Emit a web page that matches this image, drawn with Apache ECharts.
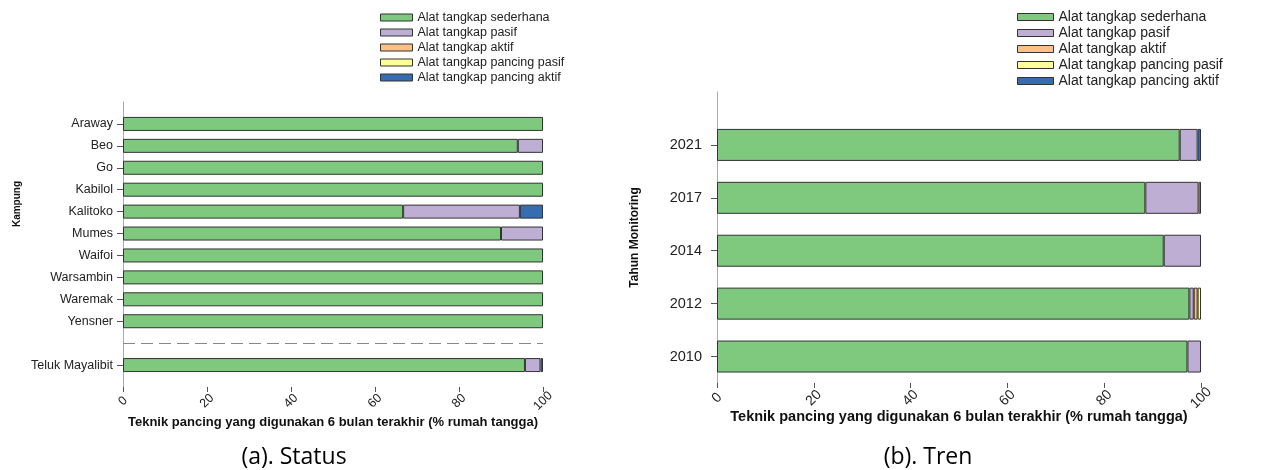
<!DOCTYPE html>
<html>
<head>
<meta charset="utf-8">
<script src="https://cdn.jsdelivr.net/npm/echarts@6/dist/echarts.min.js"></script>
<style>
html, body { margin: 0; padding: 0; background: #fff; }
#main { width: 1263px; height: 470px; }
</style>
</head>
<body>
<div id="main"></div>
<script>
var seriesNames = ['Alat tangkap sederhana', 'Alat tangkap pasif', 'Alat tangkap aktif', 'Alat tangkap pancing pasif', 'Alat tangkap pancing aktif'];
var colors = ['#7FC97F', '#BEAED4', '#FDC086', '#FFFF99', '#386CB0'];
var xTicks = [0, 20, 40, 60, 80, 100];

//(a) status per kampung
var kampung = ['Araway', 'Beo', 'Go', 'Kabilol', 'Kalitoko', 'Mumes', 'Waifoi', 'Warsambin', 'Waremak', 'Yensner'];
var totalName = 'Teluk Mayalibit';
var statusSederhana = [100, 94, 100, 100, 66.7, 90, 100, 100, 100, 100, 95.7];
var statusPasif = [0, 6, 0, 0, 27.8, 10, 0, 0, 0, 0, 3.7];
var statusAktif = [0, 0, 0, 0, 0, 0, 0, 0, 0, 0, 0];
var statusPancingPasif = [0, 0, 0, 0, 0, 0, 0, 0, 0, 0, 0];
var statusPancingAktif = [0, 0, 0, 0, 5.5, 0, 0, 0, 0, 0, 0.6];

//(b) tren per tahun
var tahun = ['2021', '2017', '2014', '2012', '2010'];
var trenSederhana = [95.6, 88.5, 92.3, 97.6, 97.2];
var trenPasif = [3.7, 11.0, 7.7, 0.9, 2.8];
var trenAktif = [0, 0.5, 0, 0.8, 0];
var trenPancingPasif = [0, 0, 0, 0.7, 0];
var trenPancingAktif = [0.7, 0, 0, 0, 0];

var font = 'Liberation Sans, Arial, sans-serif';

function blank(n) {
	return new Array(n + 1).join(' ');
}

// kampung axis: empty slot on top, a gap before the total, empty slot at bottom
var axisA = [blank(1)].concat(kampung, [blank(2), totalName, blank(3)]);
function padA(arr) {
	var out = ['-'];
	for (var i = 0; i < kampung.length; i++) out.push(arr[i] || '-');
	out.push('-', arr[kampung.length] || '-', '-');
	return out;
}

// tahun axis: half steps so the first year sits one row below the top
var axisB = [blank(1), blank(2)];
for (var i = 0; i < tahun.length; i++) axisB.push(tahun[i], blank(i + 3));
function padB(arr) {
	var out = ['-', '-'];
	for (var i = 0; i < arr.length; i++) out.push(arr[i] || '-', '-');
	return out;
}

var statusData = [statusSederhana, statusPasif, statusAktif, statusPancingPasif, statusPancingAktif];
var trenData = [trenSederhana, trenPasif, trenAktif, trenPancingPasif, trenPancingAktif];

function tickShown(index, value) {
	return String(value).trim() !== '';
}

function xAxisOf(gridIndex, size, nameSize, nameGap, margin) {
	return {
		type: 'value',
		gridIndex: gridIndex,
		min: xTicks[0],
		max: xTicks[xTicks.length - 1],
		interval: xTicks[1] - xTicks[0],
		name: 'Teknik pancing yang digunakan 6 bulan terakhir (% rumah tangga)',
		nameLocation: 'middle',
		nameGap: nameGap,
		nameMoveOverlap: false,
		nameTextStyle: { fontFamily: font, fontWeight: 'bold', fontSize: nameSize, color: '#111' },
		axisLine: { lineStyle: { color: '#aaa', width: 1 } },
		axisTick: { show: true, length: 5, lineStyle: { color: '#555' } },
		axisLabel: { rotate: 45, margin: margin, align: 'center', verticalAlign: 'middle', fontFamily: font, fontSize: size, color: '#222' },
		splitLine: { show: false }
	};
}

var series = [];
for (var s = 0; s < seriesNames.length; s++) {
	var a = {
		name: seriesNames[s],
		type: 'bar',
		stack: 'status',
		xAxisIndex: 0,
		yAxisIndex: 0,
		barWidth: 14,
		data: padA(statusData[s]),
		itemStyle: { color: colors[s], borderColor: '#333', borderWidth: 1 }
	};
	if (s === 0) {
		a.markLine = {
			silent: true,
			symbol: 'none',
			label: { show: false },
			lineStyle: { color: '#888', type: [12, 6], width: 1.2 },
			data: [{ yAxis: kampung.length + 1 }]
		};
	}
	series.push(a);
	series.push({
		name: seriesNames[s],
		type: 'bar',
		stack: 'tren',
		xAxisIndex: 1,
		yAxisIndex: 1,
		barWidth: 32,
		data: padB(trenData[s]),
		itemStyle: { color: colors[s], borderColor: '#333', borderWidth: 1 }
	});
}

var chart = echarts.init(document.getElementById('main'));
chart.setOption({
	animation: false,
	legend: [{
		orient: 'vertical',
		left: 380,
		top: 11,
		padding: 0,
		icon: 'rect',
		itemWidth: 32,
		itemHeight: 7,
		itemGap: 2,
		selectedMode: false,
		itemStyle: { borderColor: '#333', borderWidth: 1 },
		textStyle: { fontFamily: font, fontSize: 12.5, lineHeight: 13, color: '#222' },
		data: seriesNames
	}, {
		orient: 'vertical',
		left: 1017,
		top: 10,
		padding: 0,
		icon: 'rect',
		itemWidth: 36,
		itemHeight: 7,
		itemGap: 2,
		selectedMode: false,
		itemStyle: { borderColor: '#333', borderWidth: 1 },
		textStyle: { fontFamily: font, fontSize: 14, lineHeight: 13.3, color: '#222' },
		data: seriesNames
	}],
	grid: [
		{ left: 123, right: 720, top: 102, bottom: 83 },
		{ left: 717, right: 62, top: 92, bottom: 87 }
	],
	xAxis: [xAxisOf(0, 12.5, 13, 29, 14), xAxisOf(1, 14, 14.5, 26, 15)],
	yAxis: [{
		type: 'category',
		gridIndex: 0,
		inverse: true,
		boundaryGap: false,
		data: axisA,
		axisLine: { lineStyle: { color: '#aaa', width: 1 } },
		axisTick: { interval: tickShown, length: 6, lineStyle: { color: '#555' } },
		axisLabel: { interval: 0, margin: 10, fontFamily: font, fontSize: 12.5, color: '#222' },
		splitLine: { show: false }
	}, {
		type: 'category',
		gridIndex: 1,
		inverse: true,
		boundaryGap: false,
		data: axisB,
		name: 'Tahun Monitoring',
		nameLocation: 'middle',
		nameGap: 76,
		nameMoveOverlap: false,
		nameTextStyle: { fontFamily: font, fontWeight: 'bold', fontSize: 12, color: '#111' },
		axisLine: { lineStyle: { color: '#aaa', width: 1 } },
		axisTick: { interval: tickShown, length: 6, lineStyle: { color: '#555' } },
		axisLabel: { interval: 0, margin: 15, fontFamily: font, fontSize: 14.5, color: '#222' },
		splitLine: { show: false }
	}],
	graphic: [{
		type: 'text',
		x: 17,
		y: 204,
		rotation: Math.PI / 2,
		style: { text: 'Kampung', align: 'center', verticalAlign: 'middle', fontFamily: font, fontWeight: 'bold', fontSize: 10, fill: '#111' }
	}, {
		type: 'text',
		x: 294,
		y: 457,
		style: { text: '(a). Status', align: 'center', verticalAlign: 'middle', fontFamily: 'Open Sans', fontSize: 23, fill: '#000' }
	}, {
		type: 'text',
		x: 928,
		y: 457,
		style: { text: '(b). Tren', align: 'center', verticalAlign: 'middle', fontFamily: 'Open Sans', fontSize: 23, fill: '#000' }
	}],
	series: series
});
</script>
</body>
</html>
